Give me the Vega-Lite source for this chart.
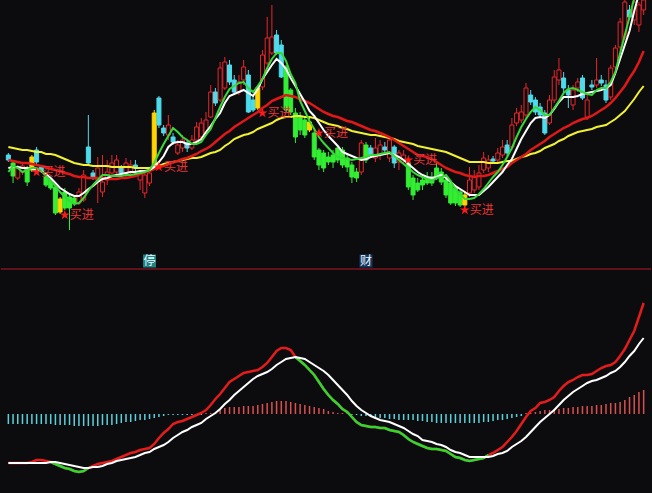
{
"$schema": "https://vega.github.io/schema/vega-lite/v6.json",
"background": "#0c0c0f",
"padding": 0,
"autosize": {"type": "fit", "contains": "padding"},
"width": 652,
"height": 493,
"config": {"view": {"stroke": null}},
"data": {"values": [
{"i":0,"t":"dn","o":113,"h":115,"l":106,"c":108,"yel":121,"red":108,"wht":100,"grn":96,"dif":-49,"dea":-49,"hist":-10},
{"i":1,"t":"g","o":105,"h":107,"l":85,"c":92,"yel":120,"red":107,"wht":101,"grn":102,"dif":-49,"dea":-49,"hist":-10},
{"i":2,"t":"up","o":90,"h":103,"l":88,"c":100,"yel":119,"red":106,"wht":101,"grn":100,"dif":-49,"dea":-49,"hist":-10},
{"i":3,"t":"up","o":96,"h":106,"l":93,"c":102,"yel":118,"red":105,"wht":100,"grn":96,"dif":-49,"dea":-49,"hist":-10},
{"i":4,"t":"g","o":100,"h":102,"l":82,"c":86,"yel":118,"red":105,"wht":100,"grn":98,"dif":-49,"dea":-49,"hist":-10},
{"i":5,"t":"y","o":98,"h":113,"l":96,"c":111,"yel":117,"red":104,"wht":99,"grn":100,"dif":-48,"dea":-49,"hist":-10},
{"i":6,"t":"dn","o":118,"h":121,"l":103,"c":106,"yel":116,"red":103,"wht":98,"grn":100,"dif":-46,"dea":-49,"hist":-10,"buy":96},
{"i":7,"t":"dn","o":101,"h":103,"l":95,"c":97,"yel":116,"red":102,"wht":97,"grn":97,"dif":-46,"dea":-49,"hist":-10},
{"i":8,"t":"g","o":91,"h":96,"l":81,"c":83,"yel":114,"red":101,"wht":94,"grn":92,"dif":-47,"dea":-49,"hist":-10},
{"i":9,"t":"g","o":88,"h":90,"l":78,"c":80,"yel":114,"red":99,"wht":90,"grn":87,"dif":-48,"dea":-48,"hist":-10,"difg":-48},
{"i":10,"t":"g","o":81,"h":83,"l":53,"c":55,"yel":113,"red":98,"wht":85,"grn":82,"dif":-50,"dea":-48,"hist":-11,"difg":-50},
{"i":11,"t":"y","o":56,"h":71,"l":54,"c":69,"yel":111,"red":97,"wht":80,"grn":76,"dif":-52,"dea":-49,"hist":-11,"difg":-52},
{"i":12,"t":"g","o":76,"h":80,"l":58,"c":60,"yel":109,"red":95,"wht":77,"grn":71,"dif":-54,"dea":-50,"hist":-11,"difg":-54,"buy":53},
{"i":13,"t":"g","o":71,"h":73,"l":38,"c":60,"yel":107,"red":94,"wht":74,"grn":67,"dif":-55,"dea":-51,"hist":-11,"difg":-55},
{"i":14,"t":"g","o":70,"h":72,"l":62,"c":65,"yel":105,"red":92,"wht":72,"grn":64,"dif":-57,"dea":-52,"hist":-12,"difg":-57},
{"i":15,"t":"up","o":65,"h":80,"l":63,"c":76,"yel":104,"red":91,"wht":72,"grn":65,"dif":-58,"dea":-53,"hist":-12,"difg":-58},
{"i":16,"t":"up","o":68,"h":98,"l":66,"c":93,"yel":103,"red":91,"wht":75,"grn":70,"dif":-57,"dea":-54,"hist":-12,"difg":-57},
{"i":17,"t":"dn","o":121,"h":153,"l":103,"c":105,"yel":103,"red":90,"wht":79,"grn":77,"dif":-54,"dea":-54,"hist":-12,"difg":-54},
{"i":18,"t":"dn","o":95,"h":98,"l":88,"c":90,"yel":102,"red":90,"wht":82,"grn":83,"dif":-52,"dea":-53,"hist":-12},
{"i":19,"t":"up","o":88,"h":111,"l":65,"c":100,"yel":102,"red":90,"wht":86,"grn":88,"dif":-50,"dea":-53,"hist":-12},
{"i":20,"t":"up","o":76,"h":113,"l":71,"c":86,"yel":102,"red":90,"wht":89,"grn":93,"dif":-49,"dea":-52,"hist":-11},
{"i":21,"t":"up","o":88,"h":108,"l":83,"c":96,"yel":102,"red":89,"wht":90,"grn":93,"dif":-48,"dea":-50,"hist":-11},
{"i":22,"t":"up","o":95,"h":113,"l":90,"c":105,"yel":101,"red":89,"wht":92,"grn":92,"dif":-47,"dea":-49,"hist":-11},
{"i":23,"t":"up","o":96,"h":113,"l":93,"c":108,"yel":101,"red":89,"wht":93,"grn":92,"dif":-45,"dea":-47,"hist":-10},
{"i":24,"t":"dn","o":100,"h":103,"l":92,"c":95,"yel":101,"red":90,"wht":94,"grn":92,"dif":-43,"dea":-46,"hist":-9},
{"i":25,"t":"up","o":95,"h":110,"l":91,"c":105,"yel":101,"red":90,"wht":95,"grn":93,"dif":-41,"dea":-45,"hist":-8},
{"i":26,"t":"up","o":96,"h":108,"l":93,"c":103,"yel":101,"red":91,"wht":96,"grn":93,"dif":-39,"dea":-44,"hist":-8},
{"i":27,"t":"dn","o":103,"h":108,"l":96,"c":100,"yel":100,"red":92,"wht":96,"grn":94,"dif":-38,"dea":-43,"hist":-7},
{"i":28,"t":"up","o":88,"h":98,"l":78,"c":95,"yel":100,"red":94,"wht":97,"grn":95,"dif":-36,"dea":-41,"hist":-6},
{"i":29,"t":"up","o":75,"h":98,"l":70,"c":93,"yel":100,"red":96,"wht":97,"grn":96,"dif":-35,"dea":-39,"hist":-6},
{"i":30,"t":"up","o":85,"h":100,"l":82,"c":95,"yel":100,"red":97,"wht":98,"grn":98,"dif":-34,"dea":-38,"hist":-5,"note":"停"},
{"i":31,"t":"y","o":101,"h":158,"l":100,"c":155,"yel":101,"red":99,"wht":101,"grn":105,"dif":-30,"dea":-35,"hist":-4},
{"i":32,"t":"dn","o":170,"h":172,"l":140,"c":143,"yel":102,"red":101,"wht":106,"grn":115,"dif":-24,"dea":-33,"hist":-3,"buy":101},
{"i":33,"t":"dn","o":140,"h":143,"l":132,"c":135,"yel":104,"red":102,"wht":112,"grn":124,"dif":-19,"dea":-31,"hist":-2},
{"i":34,"t":"up","o":133,"h":153,"l":128,"c":143,"yel":105,"red":104,"wht":121,"grn":132,"dif":-15,"dea":-28,"hist":-1},
{"i":35,"t":"dn","o":131,"h":135,"l":123,"c":126,"yel":106,"red":106,"wht":125,"grn":140,"dif":-10,"dea":-24,"hist":-1},
{"i":36,"t":"up","o":115,"h":128,"l":113,"c":123,"yel":107,"red":107,"wht":126,"grn":136,"dif":-8,"dea":-21,"hist":-1},
{"i":37,"t":"up","o":120,"h":133,"l":116,"c":128,"yel":108,"red":109,"wht":126,"grn":131,"dif":-7,"dea":-18,"hist":-1},
{"i":38,"t":"dn","o":125,"h":128,"l":116,"c":120,"yel":109,"red":110,"wht":124,"grn":128,"dif":-5,"dea":-16,"hist":-1},
{"i":39,"t":"up","o":120,"h":133,"l":118,"c":128,"yel":110,"red":112,"wht":124,"grn":124,"dif":-3,"dea":-13,"hist":-1},
{"i":40,"t":"up","o":128,"h":146,"l":126,"c":141,"yel":110,"red":114,"wht":126,"grn":124,"dif":-1,"dea":-11,"hist":-1},
{"i":41,"t":"up","o":131,"h":150,"l":128,"c":145,"yel":111,"red":117,"wht":129,"grn":126,"dif":1,"dea":-9,"hist":-1},
{"i":42,"t":"up","o":135,"h":156,"l":132,"c":148,"yel":113,"red":119,"wht":136,"grn":133,"dif":4,"dea":-5,"hist":1},
{"i":43,"t":"up","o":151,"h":183,"l":150,"c":176,"yel":115,"red":122,"wht":142,"grn":139,"dif":9,"dea":-2,"hist":1},
{"i":44,"t":"dn","o":176,"h":180,"l":162,"c":165,"yel":116,"red":126,"wht":149,"grn":150,"dif":15,"dea":1,"hist":2},
{"i":45,"t":"up","o":168,"h":206,"l":166,"c":200,"yel":118,"red":130,"wht":155,"grn":161,"dif":20,"dea":5,"hist":4},
{"i":46,"t":"up","o":180,"h":211,"l":178,"c":206,"yel":122,"red":134,"wht":165,"grn":171,"dif":26,"dea":10,"hist":6},
{"i":47,"t":"dn","o":203,"h":208,"l":183,"c":186,"yel":125,"red":137,"wht":172,"grn":179,"dif":32,"dea":14,"hist":7},
{"i":48,"t":"dn","o":188,"h":193,"l":173,"c":176,"yel":129,"red":141,"wht":174,"grn":182,"dif":35,"dea":19,"hist":7},
{"i":49,"t":"up","o":176,"h":193,"l":173,"c":186,"yel":131,"red":144,"wht":176,"grn":185,"dif":38,"dea":23,"hist":7},
{"i":50,"t":"up","o":188,"h":208,"l":183,"c":201,"yel":133,"red":147,"wht":178,"grn":186,"dif":41,"dea":27,"hist":8},
{"i":51,"t":"dn","o":193,"h":198,"l":155,"c":156,"yel":134,"red":150,"wht":175,"grn":180,"dif":42,"dea":31,"hist":8},
{"i":52,"t":"dn","o":168,"h":173,"l":156,"c":158,"yel":136,"red":153,"wht":172,"grn":176,"dif":43,"dea":35,"hist":8},
{"i":53,"t":"y","o":160,"h":183,"l":158,"c":180,"yel":139,"red":156,"wht":179,"grn":182,"dif":44,"dea":38,"hist":9},
{"i":54,"t":"up","o":181,"h":218,"l":178,"c":213,"yel":141,"red":160,"wht":189,"grn":189,"dif":47,"dea":40,"hist":10,"buy":155},
{"i":55,"t":"up","o":205,"h":251,"l":203,"c":230,"yel":143,"red":163,"wht":196,"grn":200,"dif":51,"dea":42,"hist":11},
{"i":56,"t":"up","o":215,"h":263,"l":213,"c":231,"yel":145,"red":167,"wht":203,"grn":209,"dif":57,"dea":45,"hist":12},
{"i":57,"t":"dn","o":233,"h":238,"l":213,"c":215,"yel":148,"red":169,"wht":209,"grn":215,"dif":63,"dea":49,"hist":13},
{"i":58,"t":"dn","o":223,"h":228,"l":190,"c":191,"yel":150,"red":171,"wht":205,"grn":215,"dif":66,"dea":52,"hist":13},
{"i":59,"t":"g","o":201,"h":203,"l":156,"c":158,"yel":151,"red":173,"wht":199,"grn":207,"dif":66,"dea":55,"hist":13},
{"i":60,"t":"g","o":178,"h":180,"l":153,"c":156,"yel":151,"red":172,"wht":190,"grn":194,"dif":64,"dea":56,"hist":12},
{"i":61,"t":"g","o":155,"h":160,"l":125,"c":131,"yel":152,"red":171,"wht":182,"grn":185,"dif":57,"dea":57,"hist":11,"difg":57},
{"i":62,"t":"g","o":151,"h":156,"l":133,"c":138,"yel":152,"red":169,"wht":174,"grn":167,"dif":53,"dea":56,"hist":10,"difg":53},
{"i":63,"t":"g","o":148,"h":151,"l":130,"c":133,"yel":151,"red":167,"wht":166,"grn":157,"dif":49,"dea":55,"hist":9,"difg":49},
{"i":64,"t":"y","o":138,"h":150,"l":136,"c":146,"yel":151,"red":165,"wht":157,"grn":147,"dif":44,"dea":52,"hist":8,"difg":44},
{"i":65,"t":"g","o":135,"h":138,"l":108,"c":111,"yel":150,"red":162,"wht":152,"grn":139,"dif":39,"dea":49,"hist":7,"difg":39},
{"i":66,"t":"g","o":118,"h":120,"l":98,"c":103,"yel":148,"red":159,"wht":145,"grn":131,"dif":32,"dea":46,"hist":6,"difg":32,"buy":135},
{"i":67,"t":"g","o":115,"h":118,"l":96,"c":100,"yel":146,"red":156,"wht":138,"grn":125,"dif":25,"dea":43,"hist":5,"difg":25},
{"i":68,"t":"g","o":111,"h":116,"l":103,"c":106,"yel":144,"red":154,"wht":132,"grn":120,"dif":19,"dea":39,"hist":3,"difg":19},
{"i":69,"t":"g","o":113,"h":118,"l":100,"c":106,"yel":143,"red":152,"wht":127,"grn":115,"dif":14,"dea":34,"hist":2,"difg":14},
{"i":70,"t":"g","o":120,"h":123,"l":105,"c":108,"yel":142,"red":151,"wht":122,"grn":111,"dif":10,"dea":29,"hist":1,"difg":10},
{"i":71,"t":"g","o":118,"h":121,"l":100,"c":103,"yel":140,"red":149,"wht":116,"grn":110,"dif":5,"dea":24,"hist":1,"difg":5},
{"i":72,"t":"g","o":110,"h":113,"l":96,"c":101,"yel":139,"red":147,"wht":114,"grn":109,"dif":2,"dea":19,"hist":1,"difg":2},
{"i":73,"t":"g","o":103,"h":106,"l":85,"c":91,"yel":137,"red":146,"wht":112,"grn":108,"dif":-3,"dea":13,"hist":-1,"difg":-3},
{"i":74,"t":"g","o":96,"h":100,"l":86,"c":90,"yel":136,"red":144,"wht":110,"grn":109,"dif":-8,"dea":8,"hist":-1,"difg":-8},
{"i":75,"t":"up","o":96,"h":128,"l":93,"c":125,"yel":135,"red":142,"wht":108,"grn":110,"dif":-11,"dea":4,"hist":-2,"difg":-11},
{"i":76,"t":"g","o":123,"h":126,"l":105,"c":108,"yel":134,"red":140,"wht":109,"grn":111,"dif":-12,"dea":1,"hist":-2,"difg":-12,"note":"财"},
{"i":77,"t":"dn","o":120,"h":123,"l":110,"c":113,"yel":133,"red":138,"wht":111,"grn":113,"dif":-13,"dea":-2,"hist":-3,"difg":-13},
{"i":78,"t":"up","o":110,"h":130,"l":106,"c":120,"yel":133,"red":137,"wht":112,"grn":113,"dif":-13,"dea":-4,"hist":-3,"difg":-13},
{"i":79,"t":"up","o":113,"h":128,"l":108,"c":123,"yel":132,"red":135,"wht":113,"grn":114,"dif":-14,"dea":-6,"hist":-4,"difg":-14},
{"i":80,"t":"dn","o":121,"h":126,"l":115,"c":118,"yel":131,"red":133,"wht":114,"grn":115,"dif":-14,"dea":-7,"hist":-4,"difg":-14},
{"i":81,"t":"up","o":110,"h":130,"l":106,"c":128,"yel":130,"red":131,"wht":115,"grn":116,"dif":-16,"dea":-8,"hist":-5,"difg":-16},
{"i":82,"t":"dn","o":121,"h":123,"l":100,"c":105,"yel":129,"red":128,"wht":113,"grn":112,"dif":-17,"dea":-10,"hist":-5,"difg":-17},
{"i":83,"t":"up","o":106,"h":118,"l":98,"c":115,"yel":127,"red":125,"wht":111,"grn":108,"dif":-18,"dea":-12,"hist":-6,"difg":-18},
{"i":84,"t":"up","o":108,"h":118,"l":103,"c":113,"yel":126,"red":122,"wht":108,"grn":104,"dif":-21,"dea":-14,"hist":-6,"difg":-21},
{"i":85,"t":"g","o":105,"h":108,"l":78,"c":81,"yel":125,"red":119,"wht":104,"grn":100,"dif":-25,"dea":-17,"hist":-6,"difg":-25,"buy":108},
{"i":86,"t":"g","o":90,"h":93,"l":68,"c":73,"yel":124,"red":116,"wht":100,"grn":96,"dif":-28,"dea":-20,"hist":-6,"difg":-28},
{"i":87,"t":"g","o":85,"h":90,"l":76,"c":78,"yel":122,"red":113,"wht":96,"grn":93,"dif":-30,"dea":-22,"hist":-7,"difg":-30},
{"i":88,"t":"g","o":88,"h":93,"l":78,"c":83,"yel":121,"red":112,"wht":93,"grn":91,"dif":-32,"dea":-26,"hist":-7,"difg":-32},
{"i":89,"t":"g","o":90,"h":96,"l":83,"c":85,"yel":120,"red":111,"wht":91,"grn":89,"dif":-34,"dea":-27,"hist":-8,"difg":-34},
{"i":90,"t":"g","o":91,"h":96,"l":82,"c":85,"yel":119,"red":109,"wht":90,"grn":87,"dif":-35,"dea":-28,"hist":-8,"difg":-35},
{"i":91,"t":"g","o":100,"h":105,"l":88,"c":90,"yel":118,"red":106,"wht":91,"grn":90,"dif":-35,"dea":-30,"hist":-9,"difg":-35},
{"i":92,"t":"g","o":96,"h":100,"l":83,"c":86,"yel":117,"red":103,"wht":93,"grn":91,"dif":-36,"dea":-31,"hist":-9,"difg":-36},
{"i":93,"t":"g","o":88,"h":91,"l":70,"c":73,"yel":116,"red":100,"wht":90,"grn":93,"dif":-37,"dea":-33,"hist":-9,"difg":-37},
{"i":94,"t":"g","o":85,"h":88,"l":63,"c":65,"yel":114,"red":98,"wht":86,"grn":87,"dif":-40,"dea":-36,"hist":-9,"difg":-40},
{"i":95,"t":"g","o":80,"h":83,"l":62,"c":65,"yel":112,"red":96,"wht":82,"grn":79,"dif":-43,"dea":-38,"hist":-9,"difg":-43},
{"i":96,"t":"g","o":76,"h":78,"l":61,"c":63,"yel":110,"red":95,"wht":79,"grn":74,"dif":-44,"dea":-39,"hist":-9,"difg":-44},
{"i":97,"t":"y","o":63,"h":76,"l":61,"c":73,"yel":108,"red":93,"wht":76,"grn":69,"dif":-46,"dea":-41,"hist":-9,"difg":-46,"buy":58},
{"i":98,"t":"up","o":75,"h":101,"l":71,"c":88,"yel":106,"red":92,"wht":73,"grn":69,"dif":-47,"dea":-43,"hist":-9,"difg":-47},
{"i":99,"t":"up","o":78,"h":98,"l":75,"c":91,"yel":106,"red":91,"wht":73,"grn":70,"dif":-46,"dea":-43,"hist":-9,"difg":-46},
{"i":100,"t":"up","o":81,"h":103,"l":78,"c":95,"yel":106,"red":92,"wht":73,"grn":74,"dif":-45,"dea":-43,"hist":-9,"difg":-45},
{"i":101,"t":"up","o":98,"h":116,"l":95,"c":110,"yel":106,"red":92,"wht":77,"grn":79,"dif":-44,"dea":-43,"hist":-8,"difg":-44},
{"i":102,"t":"up","o":100,"h":113,"l":96,"c":108,"yel":105,"red":93,"wht":81,"grn":85,"dif":-41,"dea":-43,"hist":-8,"difg":-41},
{"i":103,"t":"dn","o":109,"h":112,"l":105,"c":107,"yel":105,"red":95,"wht":86,"grn":91,"dif":-39,"dea":-42,"hist":-7},
{"i":104,"t":"up","o":108,"h":120,"l":105,"c":115,"yel":105,"red":97,"wht":91,"grn":96,"dif":-36,"dea":-40,"hist":-6},
{"i":105,"t":"up","o":113,"h":128,"l":110,"c":121,"yel":106,"red":99,"wht":96,"grn":103,"dif":-33,"dea":-39,"hist":-6},
{"i":106,"t":"dn","o":123,"h":128,"l":111,"c":115,"yel":107,"red":101,"wht":103,"grn":111,"dif":-28,"dea":-37,"hist":-5},
{"i":107,"t":"up","o":121,"h":150,"l":118,"c":143,"yel":107,"red":105,"wht":109,"grn":120,"dif":-23,"dea":-33,"hist":-4},
{"i":108,"t":"up","o":145,"h":160,"l":142,"c":155,"yel":109,"red":108,"wht":119,"grn":131,"dif":-17,"dea":-30,"hist":-3},
{"i":109,"t":"up","o":148,"h":163,"l":145,"c":156,"yel":111,"red":111,"wht":129,"grn":141,"dif":-10,"dea":-27,"hist":-2},
{"i":110,"t":"up","o":153,"h":185,"l":150,"c":180,"yel":112,"red":114,"wht":137,"grn":149,"dif":-3,"dea":-23,"hist":1},
{"i":111,"t":"dn","o":173,"h":178,"l":163,"c":166,"yel":114,"red":118,"wht":145,"grn":156,"dif":3,"dea":-18,"hist":1},
{"i":112,"t":"dn","o":168,"h":171,"l":153,"c":156,"yel":115,"red":121,"wht":150,"grn":161,"dif":6,"dea":-13,"hist":2},
{"i":113,"t":"dn","o":161,"h":165,"l":150,"c":153,"yel":117,"red":124,"wht":151,"grn":158,"dif":11,"dea":-8,"hist":3},
{"i":114,"t":"dn","o":155,"h":158,"l":133,"c":135,"yel":120,"red":127,"wht":150,"grn":153,"dif":12,"dea":-4,"hist":4},
{"i":115,"t":"up","o":145,"h":173,"l":143,"c":168,"yel":122,"red":131,"wht":153,"grn":153,"dif":14,"dea":0,"hist":4},
{"i":116,"t":"up","o":168,"h":198,"l":165,"c":191,"yel":124,"red":134,"wht":159,"grn":160,"dif":17,"dea":4,"hist":5},
{"i":117,"t":"up","o":188,"h":210,"l":183,"c":198,"yel":127,"red":137,"wht":166,"grn":167,"dif":23,"dea":9,"hist":5},
{"i":118,"t":"dn","o":190,"h":196,"l":176,"c":180,"yel":129,"red":140,"wht":171,"grn":175,"dif":28,"dea":14,"hist":6},
{"i":119,"t":"dn","o":178,"h":183,"l":160,"c":173,"yel":132,"red":142,"wht":171,"grn":179,"dif":32,"dea":18,"hist":6},
{"i":120,"t":"up","o":163,"h":183,"l":158,"c":178,"yel":134,"red":145,"wht":171,"grn":180,"dif":34,"dea":22,"hist":7},
{"i":121,"t":"up","o":180,"h":190,"l":176,"c":186,"yel":136,"red":147,"wht":172,"grn":178,"dif":37,"dea":25,"hist":7},
{"i":122,"t":"dn","o":190,"h":193,"l":168,"c":170,"yel":137,"red":149,"wht":174,"grn":176,"dif":39,"dea":28,"hist":8},
{"i":123,"t":"up","o":151,"h":173,"l":148,"c":168,"yel":138,"red":150,"wht":175,"grn":174,"dif":39,"dea":31,"hist":8},
{"i":124,"t":"dn","o":183,"h":188,"l":178,"c":181,"yel":139,"red":152,"wht":176,"grn":173,"dif":40,"dea":33,"hist":8},
{"i":125,"t":"up","o":183,"h":210,"l":180,"c":188,"yel":141,"red":155,"wht":177,"grn":178,"dif":43,"dea":34,"hist":9},
{"i":126,"t":"dn","o":188,"h":193,"l":182,"c":185,"yel":142,"red":158,"wht":178,"grn":180,"dif":46,"dea":36,"hist":9},
{"i":127,"t":"dn","o":183,"h":188,"l":165,"c":168,"yel":143,"red":161,"wht":180,"grn":180,"dif":48,"dea":38,"hist":10},
{"i":128,"t":"up","o":171,"h":203,"l":168,"c":200,"yel":146,"red":165,"wht":183,"grn":186,"dif":49,"dea":41,"hist":11},
{"i":129,"t":"up","o":201,"h":223,"l":198,"c":220,"yel":149,"red":170,"wht":195,"grn":196,"dif":52,"dea":43,"hist":11},
{"i":130,"t":"up","o":221,"h":250,"l":218,"c":246,"yel":153,"red":176,"wht":209,"grn":215,"dif":58,"dea":47,"hist":12},
{"i":131,"t":"up","o":231,"h":268,"l":228,"c":266,"yel":157,"red":182,"wht":223,"grn":233,"dif":65,"dea":52,"hist":14},
{"i":132,"t":"dn","o":258,"h":263,"l":248,"c":251,"yel":163,"red":190,"wht":237,"grn":251,"dif":74,"dea":58,"hist":17},
{"i":133,"t":"up","o":248,"h":268,"l":243,"c":266,"yel":169,"red":197,"wht":257,"grn":270,"dif":83,"dea":63,"hist":19},
{"i":134,"t":"up","o":243,"h":266,"l":236,"c":263,"yel":176,"red":206,"wht":274,"grn":284,"dif":97,"dea":70,"hist":22},
{"i":135,"t":"up","o":258,"h":275,"l":253,"c":268,"yel":182,"red":217,"wht":289,"grn":298,"dif":111,"dea":76,"hist":24}
]},
"resolve": {"scale": {"y": "independent"}},
"layer": [
{"mark": {"type": "rule", "strokeWidth": 1, "clip": true},
 "encoding": {"x": {"field": "i", "type": "quantitative", "scale": {"domain": [-0.5, 135.5], "nice": false, "zero": false}, "axis": null},
  "y": {"field": "l", "type": "quantitative", "scale": {"domain": [-225, 268], "nice": false, "zero": false}, "axis": null},
  "y2": {"field": "h"},
  "color": {"field": "t", "type": "nominal", "scale": {"domain": ["up","dn","g","y"], "range": ["#e8252a","#4cdcec","#33ee33","#ffd400"]}, "legend": null}}},
{"mark": {"type": "bar", "size": 4, "strokeWidth": 1, "clip": true},
 "encoding": {"x": {"field": "i", "type": "quantitative", "scale": {"domain": [-0.5, 135.5], "nice": false, "zero": false}, "axis": null},
  "y": {"field": "o", "type": "quantitative", "scale": {"domain": [-225, 268], "nice": false, "zero": false}, "axis": null},
  "y2": {"field": "c"},
  "fill": {"field": "t", "type": "nominal", "scale": {"domain": ["up","dn","g","y"], "range": ["#0c0c0f","#4cdcec","#33ee33","#ffd400"]}, "legend": null},
  "stroke": {"field": "t", "type": "nominal", "scale": {"domain": ["up","dn","g","y"], "range": ["#e8252a","#4cdcec","#33ee33","#ffd400"]}, "legend": null}}},
{"mark": {"type": "line", "color": "#f2f230", "strokeWidth": 2, "clip": true},
 "encoding": {"x": {"field": "i", "type": "quantitative", "scale": {"domain": [-0.5, 135.5], "nice": false, "zero": false}, "axis": null},
  "y": {"field": "yel", "type": "quantitative", "scale": {"domain": [-225, 268], "nice": false, "zero": false}, "axis": null}}},
{"mark": {"type": "line", "color": "#e01818", "strokeWidth": 2.5, "clip": true},
 "encoding": {"x": {"field": "i", "type": "quantitative", "scale": {"domain": [-0.5, 135.5], "nice": false, "zero": false}, "axis": null},
  "y": {"field": "red", "type": "quantitative", "scale": {"domain": [-225, 268], "nice": false, "zero": false}, "axis": null}}},
{"mark": {"type": "line", "color": "#ffffff", "strokeWidth": 2, "clip": true},
 "encoding": {"x": {"field": "i", "type": "quantitative", "scale": {"domain": [-0.5, 135.5], "nice": false, "zero": false}, "axis": null},
  "y": {"field": "wht", "type": "quantitative", "scale": {"domain": [-225, 268], "nice": false, "zero": false}, "axis": null}}},
{"mark": {"type": "line", "color": "#36d936", "strokeWidth": 2, "clip": true},
 "encoding": {"x": {"field": "i", "type": "quantitative", "scale": {"domain": [-0.5, 135.5], "nice": false, "zero": false}, "axis": null},
  "y": {"field": "grn", "type": "quantitative", "scale": {"domain": [-225, 268], "nice": false, "zero": false}, "axis": null}}},
{"transform": [{"filter": "isValid(datum.buy)"}],
 "mark": {"type": "point", "shape": "M0,-1L0.2245,-0.309L0.951,-0.309L0.363,0.118L0.588,0.809L0,0.382L-0.588,0.809L-0.363,0.118L-0.951,-0.309L-0.2245,-0.309Z", "filled": true, "color": "#ff1a1a", "size": 110, "opacity": 1},
 "encoding": {"x": {"field": "i", "type": "quantitative", "scale": {"domain": [-0.5, 135.5], "nice": false, "zero": false}, "axis": null},
  "y": {"field": "buy", "type": "quantitative", "scale": {"domain": [-225, 268], "nice": false, "zero": false}, "axis": null}}},
{"transform": [{"filter": "isValid(datum.buy)"}],
 "mark": {"type": "text", "text": "买进", "align": "left", "baseline": "middle", "dx": 5, "fontSize": 12, "font": "Noto Sans CJK SC", "color": "#e83535"},
 "encoding": {"x": {"field": "i", "type": "quantitative", "scale": {"domain": [-0.5, 135.5], "nice": false, "zero": false}, "axis": null},
  "y": {"field": "buy", "type": "quantitative", "scale": {"domain": [-225, 268], "nice": false, "zero": false}, "axis": null}}},
{"transform": [{"filter": "isValid(datum.note)"}],
 "mark": {"type": "square", "size": 169, "filled": true, "opacity": 1},
 "encoding": {"x": {"field": "i", "type": "quantitative", "scale": {"domain": [-0.5, 135.5], "nice": false, "zero": false}, "axis": null},
  "y": {"datum": 7, "type": "quantitative", "scale": {"domain": [-225, 268], "nice": false, "zero": false}, "axis": null},
  "color": {"condition": {"test": "datum.note === '停'", "value": "#1b8383"}, "value": "#17365e"}}},
{"transform": [{"filter": "isValid(datum.note)"}],
 "mark": {"type": "text", "baseline": "middle", "align": "center", "fontSize": 12, "font": "Noto Sans CJK SC", "color": "#eaf6ff"},
 "encoding": {"x": {"field": "i", "type": "quantitative", "scale": {"domain": [-0.5, 135.5], "nice": false, "zero": false}, "axis": null},
  "y": {"datum": 7, "type": "quantitative", "scale": {"domain": [-225, 268], "nice": false, "zero": false}, "axis": null},
  "text": {"field": "note", "type": "nominal"}}},
{"data": {"values": [{}]},
 "mark": {"type": "rule", "color": "#7d1422", "strokeWidth": 1.5},
 "encoding": {"y": {"datum": 145, "type": "quantitative", "scale": {"domain": [-79, 414], "nice": false, "zero": false}, "axis": null}}},
{"mark": {"type": "rule", "strokeWidth": 1.5},
 "encoding": {"x": {"field": "i", "type": "quantitative", "scale": {"domain": [-0.5, 135.5], "nice": false, "zero": false}, "axis": null},
  "y": {"field": "hist", "type": "quantitative", "scale": {"domain": [-79, 414], "nice": false, "zero": false}, "axis": null},
  "y2": {"datum": 0},
  "color": {"condition": {"test": "datum.hist > 0", "value": "#d9504f"}, "value": "#5cd0da"}}},
{"mark": {"type": "line", "color": "#e41c1c", "strokeWidth": 2.5},
 "encoding": {"x": {"field": "i", "type": "quantitative", "scale": {"domain": [-0.5, 135.5], "nice": false, "zero": false}, "axis": null},
  "y": {"field": "dif", "type": "quantitative", "scale": {"domain": [-79, 414], "nice": false, "zero": false}, "axis": null}}},
{"mark": {"type": "line", "color": "#2ed82e", "strokeWidth": 2.5},
 "encoding": {"x": {"field": "i", "type": "quantitative", "scale": {"domain": [-0.5, 135.5], "nice": false, "zero": false}, "axis": null},
  "y": {"field": "difg", "type": "quantitative", "scale": {"domain": [-79, 414], "nice": false, "zero": false}, "axis": null}}},
{"mark": {"type": "line", "color": "#ffffff", "strokeWidth": 2},
 "encoding": {"x": {"field": "i", "type": "quantitative", "scale": {"domain": [-0.5, 135.5], "nice": false, "zero": false}, "axis": null},
  "y": {"field": "dea", "type": "quantitative", "scale": {"domain": [-79, 414], "nice": false, "zero": false}, "axis": null}}}
]
}
